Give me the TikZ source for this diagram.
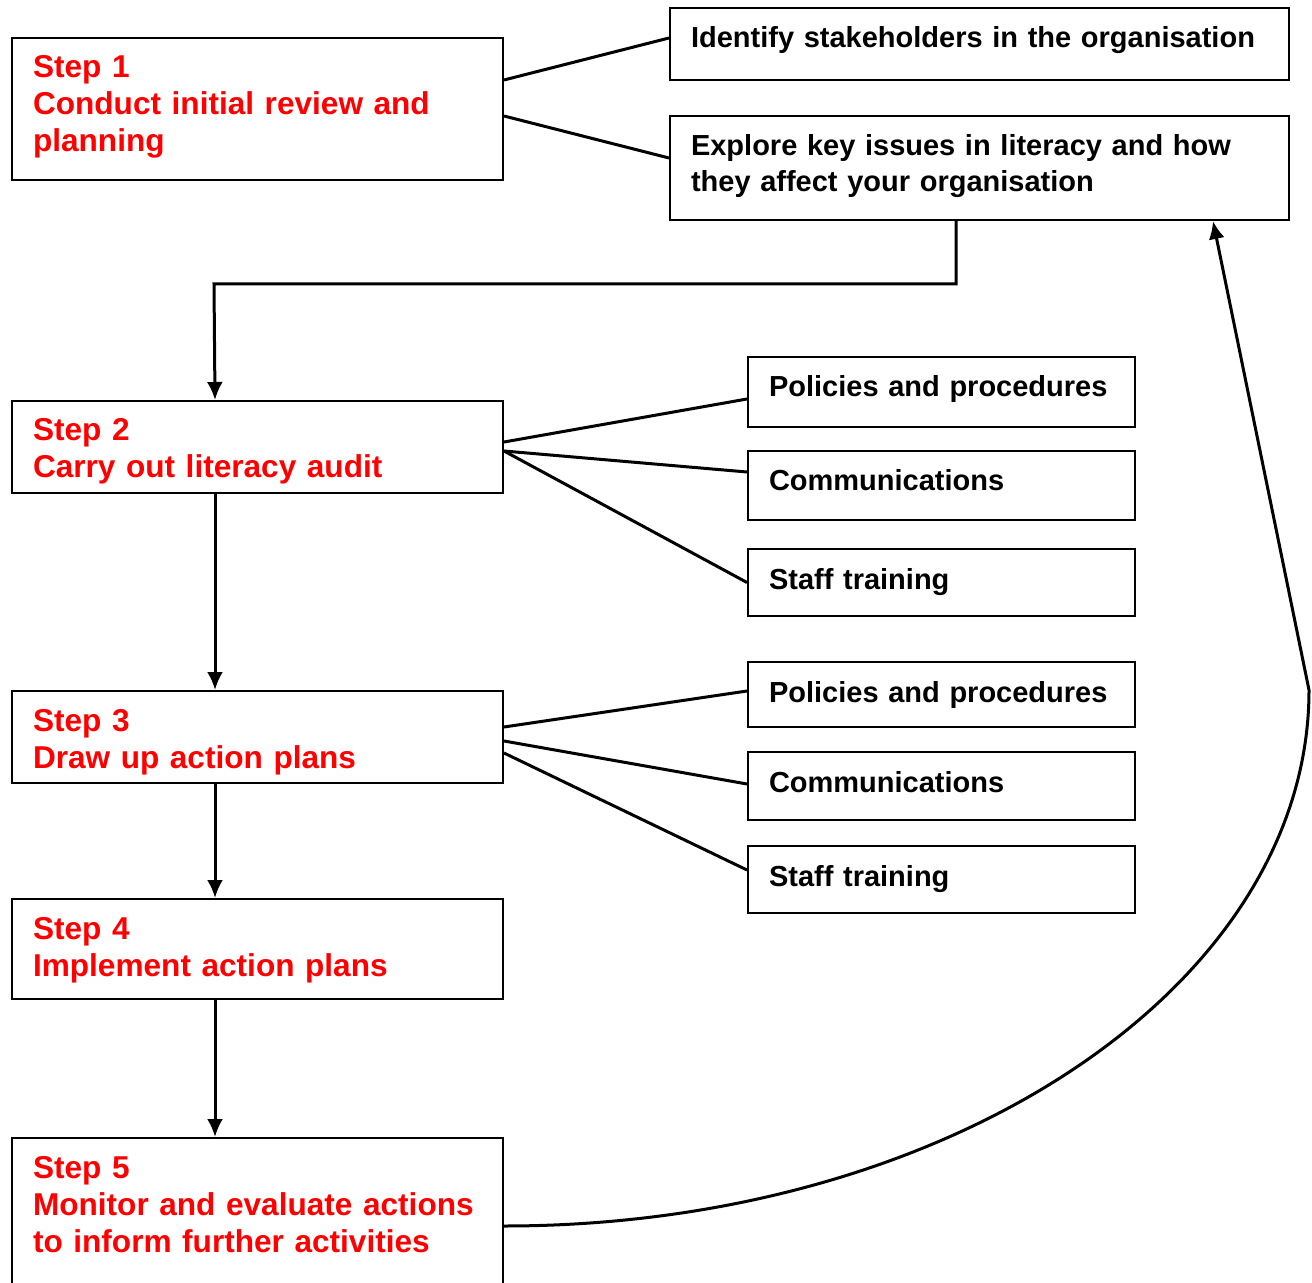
\documentclass[tikz,border=0pt]{standalone}
\usepackage{fontspec}
\setmainfont{Liberation Sans}
\usetikzlibrary{arrows.meta}

\begin{document}
\begin{tikzpicture}[x=0.5pt,y=-0.5pt]
      %box and line styles
      \tikzset{
      stepbox/.style={draw, line width=1pt, anchor=north west, inner xsep=10.5pt, inner ysep=0pt,
        text height=20pt, text width=224.5pt, align=left, text=red,
        font=\bfseries\fontsize{15.8}{18.5}\selectfont},
      itembox/.style={draw, line width=1pt, anchor=north west, inner xsep=10.5pt, inner ysep=0pt,
        text height=20pt, text width=172.5pt, align=left,
        font=\bfseries\fontsize{14.5}{18}\selectfont},
      widebox/.style={itembox, text width=288.5pt},
      link/.style={line width=1.5pt},
      flow/.style={line width=1.5pt, -{Latex[length=9pt,width=8pt]}},
      }
      \useasboundingbox (0,0) rectangle (1312,1283);

      %Step 1 - review and planning
      \node[stepbox, text depth=51pt] (step1) at (11,37) {Step 1\\Conduct initial review and\\planning};
      \node[widebox, text depth=16pt] (ident) at (669,7) {Identify stakeholders in the organisation};
      \node[widebox, text depth=32pt] (explore) at (669,115) {Explore key issues in literacy and how\\they affect your organisation};
      \draw[link] ([yshift=14.5pt]step1.east) -- ([yshift=3pt]ident.west);
      \draw[link] ([yshift=-3.5pt]step1.east) -- ([yshift=5pt]explore.west);

      %Step 2 - audit
      \node[stepbox, text depth=26pt] (step2) at (11,400) {Step 2\\Carry out literacy audit};
      \node[itembox, text depth=15pt] (pol1) at (747,356) {Policies and procedures};
      \node[itembox, text depth=14.5pt] (comm1) at (747,450) {Communications};
      \node[itembox, text depth=13.5pt] (staff1) at (747,548) {Staff training};
      \draw[link] ([yshift=2.5pt]step2.east) -- ([yshift=-3.5pt]pol1.west);
      \draw[link] ([yshift=-2pt]step2.east) -- ([yshift=6.75pt]comm1.west);
      \draw[link] ([yshift=-2pt]step2.east) -- (staff1.west);
      \coordinate (turn) at (214,284);
      \draw[flow] ([xshift=-11.75pt]explore.south) |- (turn) -- ([xshift=-21.25pt]step2.north);

      %Step 3 - action plans
      \node[stepbox, text depth=26pt] (step3) at (11,690) {Step 3\\Draw up action plans};
      \node[itembox, text depth=12.5pt] (pol2) at (747,661) {Policies and procedures};
      \node[itembox, text depth=14pt] (comm2) at (747,751) {Communications};
      \node[itembox, text depth=13.5pt] (staff2) at (747,845) {Staff training};
      \draw[link] ([yshift=5pt]step3.east) -- ([yshift=1.75pt]pol2.west);
      \draw[link] ([yshift=-2pt]step3.east) -- ([yshift=1pt]comm2.west);
      \draw[link] ([yshift=-8pt]step3.east) -- ([yshift=4.75pt]staff2.west);
      \draw[flow] ([xshift=-21.25pt]step2.south) -- ([xshift=-21.25pt]step3.north);

      %Step 4 and 5
      \node[stepbox, text depth=30pt] (step4) at (11,898) {Step 4\\Implement action plans};
      \node[stepbox, text depth=70pt] (step5) at (11,1137) {Step 5\\Monitor and evaluate actions\\to inform further activities};
      \draw[flow] ([xshift=-21.25pt]step3.south) -- ([xshift=-21.25pt]step4.north);
      \draw[flow] ([xshift=-21.25pt]step4.south) -- ([xshift=-21.25pt]step5.north);

      %feedback loop
      \coordinate (peak) at (1309,690);
      \draw[flow] ([yshift=-44.5pt]step5.north east) .. controls +(446,0) and +(0,296) .. (peak)
        -- ([xshift=116.75pt]explore.south);
\end{tikzpicture}
\end{document}
